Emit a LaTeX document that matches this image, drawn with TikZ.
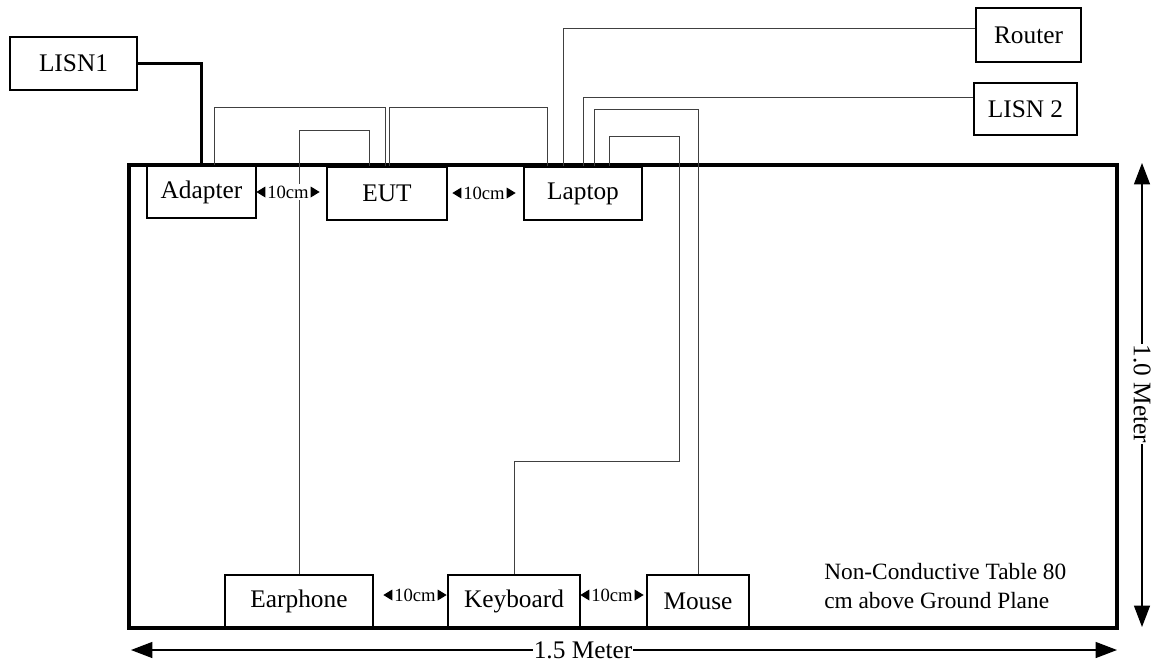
\documentclass[tikz,border=0pt]{standalone}
\usepackage{fontspec}
\setmainfont{Liberation Serif}
\usetikzlibrary{arrows.meta}
\begin{document}
\begin{tikzpicture}[x=0.75pt,y=-0.75pt,
  box/.style={draw, line width=0.9pt, fill=white, inner sep=0pt, font=\fontsize{19}{22}\selectfont},
  wire/.style={draw=black!75, line width=0.75pt},
  powerwire/.style={draw=black, line width=2.2pt},
  tablerect/.style={draw=black, line width=2.3pt},
  dimlbl/.style={fill=white, inner ysep=1pt, inner xsep=8pt, font=\fontsize{14}{16}\selectfont},
  measlbl/.style={fill=white, inner xsep=0.5pt, inner ysep=1pt, font=\fontsize{19}{22}\selectfont},
  meas/.style={line width=0.9pt, {Triangle[length=16pt,width=12pt]}-{Triangle[length=16pt,width=12pt]}}
]
\useasboundingbox (0,0) rectangle (1154,665);

% table
\draw[tablerect] (129,165) rectangle (1117,628);

% boxes
\node[box, minimum width=95.25pt, minimum height=39.75pt] (lisn1) at (73.5,63.5) {LISN1};
\node[box, minimum width=78.75pt, minimum height=40.5pt] (router) at (1028.5,35) {Router};
\node[box, minimum width=77.25pt, minimum height=39pt] (lisn2) at (1025.5,109) {LISN 2};
\node[box, minimum width=81.75pt, minimum height=39pt] (adapter) at (201.5,192) {Adapter};
\node[box, minimum width=90pt, minimum height=39.75pt] (eut) at (387,193.5) {EUT};
\node[box, minimum width=88.5pt, minimum height=39.75pt] (laptop) at (583,193.5) {Laptop};
\node[box, minimum width=111pt, minimum height=39pt] (earphone) at (299,601) {Earphone};
\node[box, minimum width=99pt, minimum height=39pt] (keyboard) at (514,601) {Keyboard};
\node[box, minimum width=76.5pt, minimum height=39pt] (mouse) at (698,601) {Mouse};

% bend points
\coordinate (b1) at (214,107);
\coordinate (b2) at (385.5,107);
\coordinate (b3) at (389,107);
\coordinate (b4) at (547,107);
\coordinate (b5) at (369,130);
\coordinate (b7) at (563,28);
\coordinate (b8) at (583,97);
\coordinate (b9) at (594,109);
\coordinate (b10) at (609,136);
\coordinate (b11) at (679,461);

% wires
\draw[powerwire] (lisn1.east) -| (adapter.north);
\draw[wire] (adapter.north -| b1) -- (b1) -- (b2) -- (b2 |- eut.north);
\draw[wire] (b3 |- eut.north) -- (b3) -- (b4) -- (b4 |- laptop.north);
\draw[wire] (earphone.north) |- (b5) -- (b5 |- eut.north);
\draw[wire] (b7 |- laptop.north) -- (b7) -- (b7 -| router.west);
\draw[wire] (b8 |- laptop.north) -- (b8) -- (b8 -| lisn2.west);
\draw[wire] (b9 |- laptop.north) -- (b9) -| (mouse.north);
\draw[wire] (b10 |- laptop.north) -- (b10) -| (b11) -| (keyboard.north);

% 10cm spacing labels
\foreach \n/\p in {d1/{(288,192)}, d2/{(484,193)}, d3/{(415,595)}, d4/{(612,595)}}{
  \node[dimlbl] (\n) at \p {10cm};
  \fill (\n.west) -- ++(9,-5.5) -- ++(0,11) -- cycle;
  \fill (\n.east) -- ++(-9,-5.5) -- ++(0,11) -- cycle;
}

% table caption
\node[anchor=west, inner sep=0pt, align=left, font=\fontsize{17.5}{21.5}\selectfont] (cap) at (824,586)
  {Non-Conductive Table 80\\cm above Ground Plane};

% dimensions
\coordinate (h1) at (131,650);
\coordinate (h2) at (1117,650);
\draw[meas] (h1) -- (h2);
\node[measlbl] (hl) at (583,650) {1.5 Meter};
\coordinate (v1) at (1142,163);
\coordinate (v2) at (1142,627);
\draw[meas] (v1) -- (v2);
\node[measlbl, rotate=-90] (vl) at (1142,394) {1.0 Meter};
\end{tikzpicture}
\end{document}
